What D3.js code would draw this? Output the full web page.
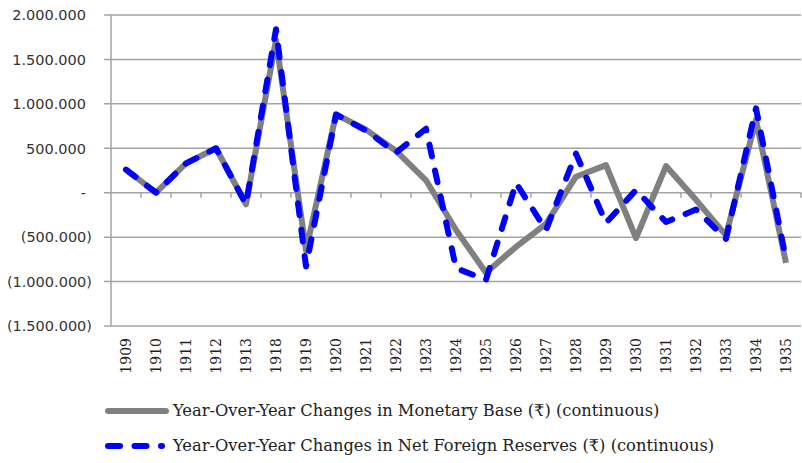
<!DOCTYPE html>
<html>
<head>
<meta charset="utf-8">
<script src="https://cdn.jsdelivr.net/npm/d3@7"></script>
<style>
  body { margin: 0; background: #fff; }
  .ylab { font-family: "DejaVu Sans", sans-serif; font-size: 14.5px; fill: #333; }
  .xlab { font-family: "DejaVu Serif", serif; font-size: 14px; fill: #222; }
  .leg { font-family: "DejaVu Serif", serif; font-size: 16.3px; fill: #222; }
</style>
</head>
<body>
<div class="chartCont"></div>
<script>
var w = 802;
var h = 463;

var years = ["1909", "1910", "1911", "1912", "1913", "1918", "1919", "1920", "1921", "1922", "1923", "1924",
             "1925", "1926", "1927", "1928", "1929", "1930", "1931", "1932", "1933", "1934", "1935"];

var monetaryBase = [260000, 0, 330000, 500000, -130000, 1720000, -650000, 880000, 710000, 470000, 140000, -420000,
                    -900000, -610000, -350000, 180000, 310000, -510000, 300000, -80000, -480000, 820000, -790000];

var foreignReserves = [260000, 0, 330000, 500000, -130000, 1840000, -830000, 880000, 700000, 450000, 720000, -850000,
                       -980000, 110000, -420000, 440000, -340000, 30000, -330000, -190000, -520000, 950000, -750000];

var yTicks = [-1500000, -1000000, -500000, 0, 500000, 1000000, 1500000, 2000000];

var seriesNames = ["Year-Over-Year Changes in Monetary Base (\u20B9) (continuous)",
                   "Year-Over-Year Changes in Net Foreign Reserves (\u20B9) (continuous)"];

var svg = d3.select(".chartCont").append("svg")
    .attr("width", w)
    .attr("height", h);

var x = d3.scaleBand()
    .domain(years)
    .range([111, 801]);

var y = d3.scaleLinear()
    .domain([-1500000, 2000000])
    .range([326, 15]);

// number format like 1.500.000 with brackets for negatives
function fmt(v) {
  if (v === 0) return "-";
  var s = d3.format(",")(Math.abs(v)).replace(/,/g, ".");
  return v < 0 ? "(" + s + ")" : s;
}

// gridlines
svg.append("g")
  .selectAll("line")
  .data(yTicks)
  .enter()
  .append("line")
    .attr("x1", 104)
    .attr("x2", 801)
    .attr("y1", d => y(d))
    .attr("y2", d => y(d))
    .attr("stroke", "#a3a3a3")
    .attr("stroke-width", 1.5);

// y axis line
svg.append("line")
  .attr("x1", 111).attr("x2", 111)
  .attr("y1", y(2000000)).attr("y2", y(-1500000))
  .attr("stroke", "#a3a3a3")
  .attr("stroke-width", 1.5);

svg.append("g")
  .selectAll("text")
  .data(yTicks)
  .enter()
  .append("text")
    .attr("class", "ylab")
    .attr("x", d => d < 0 ? 92 : 86)
    .attr("y", d => y(d))
    .attr("dy", "0.36em")
    .attr("text-anchor", "end")
    .text(fmt);

// x ticks sit on the zero line, between categories
svg.append("g")
  .selectAll("line")
  .data(years)
  .enter()
  .append("line")
    .attr("x1", d => x(d) + x.bandwidth())
    .attr("x2", d => x(d) + x.bandwidth())
    .attr("y1", y(0))
    .attr("y2", y(0) + 5)
    .attr("stroke", "#a3a3a3")
    .attr("stroke-width", 1.5);

svg.append("g")
  .selectAll("text")
  .data(years)
  .enter()
  .append("text")
    .attr("class", "xlab")
    .attr("text-anchor", "end")
    .attr("transform", d => "translate(" + (x(d) + x.bandwidth() / 2) + ",338) rotate(-90)")
    .attr("dy", "0.36em")
    .text(d => d);

var line = d3.line()
    .x((d, i) => x(years[i]) + x.bandwidth() / 2)
    .y(d => y(d));

svg.append("path")
  .datum(monetaryBase)
  .attr("d", line)
  .attr("fill", "none")
  .attr("stroke", "#808080")
  .attr("stroke-width", 6)
  .attr("stroke-linejoin", "round");

svg.append("path")
  .datum(foreignReserves)
  .attr("d", line)
  .attr("fill", "none")
  .attr("stroke", "#0000ff")
  .attr("stroke-width", 6)
  .attr("stroke-linecap", "round")
  .attr("stroke-linejoin", "round")
  .attr("stroke-dasharray", "12,14.5");

// legend
var leg = svg.append("g");
leg.append("line")
  .attr("x1", 108).attr("x2", 166)
  .attr("y1", 411).attr("y2", 411)
  .attr("stroke", "#808080")
  .attr("stroke-width", 6)
  .attr("stroke-linecap", "round");
leg.append("line")
  .attr("x1", 108).attr("x2", 162)
  .attr("y1", 446).attr("y2", 446)
  .attr("stroke", "#0000ff")
  .attr("stroke-width", 6)
  .attr("stroke-linecap", "round")
  .attr("stroke-dasharray", "12,14.5");

leg.selectAll("text")
  .data(seriesNames)
  .enter()
  .append("text")
    .attr("class", "leg")
    .attr("x", 173)
    .attr("y", (d, i) => 416 + i * 35)
    .text(d => d);
</script>
</body>
</html>
